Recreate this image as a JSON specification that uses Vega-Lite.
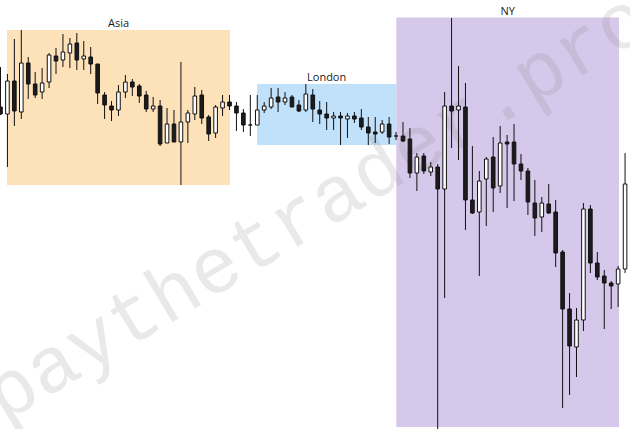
{
  "$schema": "https://vega.github.io/schema/vega-lite/v6.json",
  "width": 630,
  "height": 429,
  "padding": 0,
  "autosize": {"type": "none"},
  "background": "white",
  "config": {"view": {"stroke": null}},
  "datasets": {
    "candles": [
      {"i":0,"open":322,"high":362,"low":314,"close":315},
      {"i":1,"open":315,"high":355,"low":262,"close":348},
      {"i":2,"open":348,"high":390,"low":303,"close":318},
      {"i":3,"open":317,"high":399,"low":310,"close":366},
      {"i":4,"open":366,"high":372,"low":330,"close":345},
      {"i":5,"open":345,"high":357,"low":331,"close":334},
      {"i":6,"open":337,"high":361,"low":330,"close":346},
      {"i":7,"open":347,"high":376,"low":341,"close":374},
      {"i":8,"open":373,"high":381,"low":355,"close":368},
      {"i":9,"open":369,"high":395,"low":362,"close":377},
      {"i":10,"open":376,"high":391,"low":361,"close":385},
      {"i":11,"open":386,"high":396,"low":359,"close":369},
      {"i":12,"open":370,"high":388,"low":359,"close":373},
      {"i":13,"open":372,"high":382,"low":355,"close":365},
      {"i":14,"open":365,"high":365,"low":325,"close":336},
      {"i":15,"open":334,"high":337,"low":310,"close":324},
      {"i":16,"open":323,"high":328,"low":308,"close":319},
      {"i":17,"open":319,"high":344,"low":313,"close":337},
      {"i":18,"open":337,"high":354,"low":331,"close":347},
      {"i":19,"open":347,"high":350,"low":333,"close":342},
      {"i":20,"open":343,"high":345,"low":326,"close":333},
      {"i":21,"open":334,"high":338,"low":317,"close":320},
      {"i":22,"open":320,"high":332,"low":317,"close":323},
      {"i":23,"open":323,"high":329,"low":283,"close":285},
      {"i":24,"open":286,"high":321,"low":286,"close":305},
      {"i":25,"open":305,"high":319,"low":287,"close":287},
      {"i":26,"open":287,"high":367,"low":244,"close":307},
      {"i":27,"open":307,"high":319,"low":286,"close":316},
      {"i":28,"open":315,"high":342,"low":309,"close":333},
      {"i":29,"open":334,"high":339,"low":305,"close":311},
      {"i":30,"open":312,"high":314,"low":288,"close":295},
      {"i":31,"open":296,"high":324,"low":291,"close":322},
      {"i":32,"open":321,"high":334,"low":313,"close":327},
      {"i":33,"open":327,"high":334,"low":319,"close":323},
      {"i":34,"open":323,"high":327,"low":298,"close":316},
      {"i":35,"open":316,"high":320,"low":297,"close":304},
      {"i":36,"open":304,"high":334,"low":293,"close":304},
      {"i":37,"open":304,"high":334,"low":304,"close":319},
      {"i":38,"open":319,"high":327,"low":316,"close":323},
      {"i":39,"open":322,"high":341,"low":320,"close":331},
      {"i":40,"open":332,"high":341,"low":317,"close":327},
      {"i":41,"open":327,"high":337,"low":324,"close":331},
      {"i":42,"open":332,"high":334,"low":322,"close":322},
      {"i":43,"open":324,"high":329,"low":317,"close":318},
      {"i":44,"open":319,"high":345,"low":317,"close":335},
      {"i":45,"open":334,"high":340,"low":307,"close":320},
      {"i":46,"open":319,"high":328,"low":305,"close":315},
      {"i":47,"open":315,"high":327,"low":299,"close":311},
      {"i":48,"open":311,"high":317,"low":299,"close":313},
      {"i":49,"open":313,"high":317,"low":284,"close":311},
      {"i":50,"open":310,"high":316,"low":291,"close":313},
      {"i":51,"open":313,"high":317,"low":306,"close":310},
      {"i":52,"open":311,"high":320,"low":299,"close":302},
      {"i":53,"open":302,"high":312,"low":284,"close":296},
      {"i":54,"open":297,"high":312,"low":286,"close":295},
      {"i":55,"open":297,"high":309,"low":295,"close":305},
      {"i":56,"open":305,"high":312,"low":285,"close":292},
      {"i":57,"open":293,"high":297,"low":289,"close":293},
      {"i":58,"open":293,"high":307,"low":287,"close":288},
      {"i":59,"open":290,"high":301,"low":251,"close":256},
      {"i":60,"open":256,"high":276,"low":238,"close":272},
      {"i":61,"open":273,"high":276,"low":255,"close":258},
      {"i":62,"open":257,"high":267,"low":253,"close":262},
      {"i":63,"open":262,"high":265,"low":0,"close":240},
      {"i":64,"open":240,"high":337,"low":131,"close":323},
      {"i":65,"open":323,"high":411,"low":281,"close":318},
      {"i":66,"open":319,"high":363,"low":269,"close":323},
      {"i":67,"open":322,"high":346,"low":199,"close":229},
      {"i":68,"open":229,"high":283,"low":215,"close":216},
      {"i":69,"open":217,"high":258,"low":153,"close":248},
      {"i":70,"open":250,"high":272,"low":203,"close":270},
      {"i":71,"open":272,"high":292,"low":217,"close":241},
      {"i":72,"open":243,"high":303,"low":236,"close":286},
      {"i":73,"open":287,"high":294,"low":221,"close":285},
      {"i":74,"open":287,"high":305,"low":228,"close":265},
      {"i":75,"open":265,"high":275,"low":249,"close":258},
      {"i":76,"open":258,"high":261,"low":214,"close":227},
      {"i":77,"open":226,"high":249,"low":193,"close":211},
      {"i":78,"open":212,"high":232,"low":197,"close":226},
      {"i":79,"open":225,"high":245,"low":215,"close":216},
      {"i":80,"open":217,"high":229,"low":162,"close":176},
      {"i":81,"open":177,"high":179,"low":21,"close":120},
      {"i":82,"open":120,"high":136,"low":34,"close":83},
      {"i":83,"open":82,"high":121,"low":52,"close":109},
      {"i":84,"open":109,"high":226,"low":98,"close":220},
      {"i":85,"open":220,"high":224,"low":156,"close":166},
      {"i":86,"open":166,"high":177,"low":149,"close":152},
      {"i":87,"open":153,"high":159,"low":100,"close":146},
      {"i":88,"open":146,"high":148,"low":120,"close":143},
      {"i":89,"open":145,"high":163,"low":122,"close":160},
      {"i":90,"open":160,"high":276,"low":156,"close":245}
    ],
    "sessions": [
      {"session":"Asia","start":0.94,"end":33.07,"top":399,"bottom":244},
      {"session":"London","start":36.96,"end":57.03,"top":345,"bottom":284},
      {"session":"NY","start":57.03,"end":89.12,"top":411.5,"bottom":2}
    ],
    "mark": [
      {"text":"paythetrader.pro","i":47.3,"p":201}
    ]
  },
  "resolve": {"scale": {"color": "independent"}},
  "layer": [
    {
      "data": {"name": "sessions"},
      "mark": {"type": "rect", "clip": true},
      "encoding": {
        "x": {"field": "start", "type": "quantitative", "scale": {"domain": [-0.07, 90.71], "nice": false, "zero": false, "padding": 0}, "axis": null},
        "x2": {"field": "end"},
        "y": {"field": "top", "type": "quantitative", "scale": {"domain": [0, 429], "nice": false, "zero": false, "padding": 0}, "axis": null},
        "y2": {"field": "bottom"},
        "fill": {"field": "session", "type": "nominal", "scale": {"domain": ["Asia", "London", "NY"], "range": ["#fde1b9", "#c1e0fa", "#d6c8ea"]}, "legend": null}
      }
    },
    {
      "data": {"name": "sessions"},
      "transform": [{"calculate": "(datum.start + datum.end) / 2", "as": "mid"}],
      "mark": {"type": "text", "font": "Open Sans", "fontSize": 11, "color": "#1a1a1a", "baseline": "alphabetic", "align": "center", "dy": -3},
      "encoding": {
        "x": {"field": "mid", "type": "quantitative"},
        "y": {"field": "top", "type": "quantitative"},
        "text": {"field": "session"}
      }
    },
    {
      "data": {"name": "mark"},
      "mark": {"type": "text", "font": "Liberation Mono", "fontSize": 79, "color": "#808080", "opacity": 0.17, "angle": -31, "align": "center", "baseline": "alphabetic", "clip": true},
      "encoding": {
        "x": {"field": "i", "type": "quantitative"},
        "y": {"field": "p", "type": "quantitative"},
        "text": {"field": "text"}
      }
    },
    {
      "data": {"name": "candles"},
      "mark": {"type": "rule", "color": "#111111", "strokeWidth": 1, "clip": true},
      "encoding": {
        "x": {"field": "i", "type": "quantitative"},
        "y": {"field": "low", "type": "quantitative"},
        "y2": {"field": "high"}
      }
    },
    {
      "data": {"name": "candles"},
      "mark": {"type": "bar", "width": 3.6, "stroke": "#111111", "strokeWidth": 1, "clip": true},
      "encoding": {
        "x": {"field": "i", "type": "quantitative"},
        "y": {"field": "open", "type": "quantitative"},
        "y2": {"field": "close"},
        "fill": {"condition": {"test": "datum.close > datum.open", "value": "#ffffff"}, "value": "#1c1c1c"}
      }
    }
  ]
}
